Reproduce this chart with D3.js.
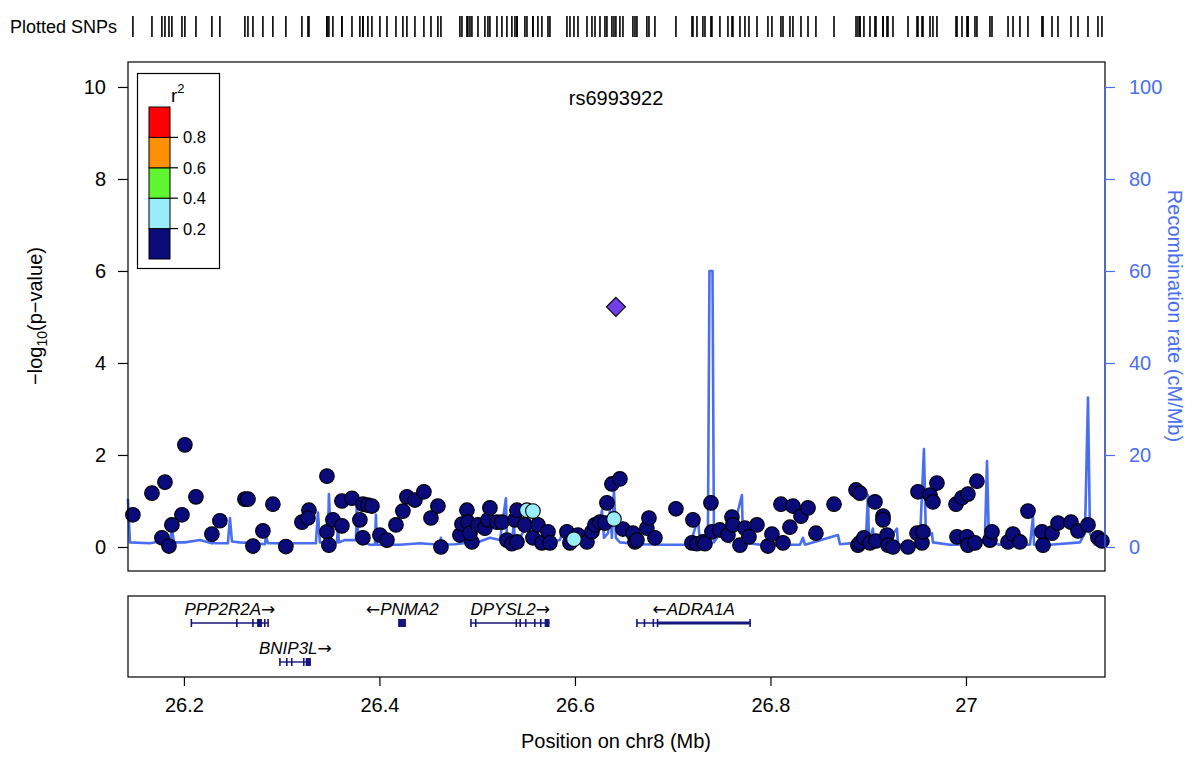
<!DOCTYPE html>
<html><head><meta charset="utf-8">
<script src="https://cdn.jsdelivr.net/npm/d3@7"></script>
<style>body{margin:0;background:#fff} svg{font-family:"Liberation Sans",Arial,Helvetica,sans-serif}</style>
</head><body><svg id="c" width="1200" height="762"></svg>
<script>
// ---------- data ----------
const snpPos = [26.1478,26.1673,26.1806,26.2010,26.2123,26.1980,26.1877,26.1775,26.1847,26.2286,26.2368,26.2624,26.2655,26.2706,26.2808,26.2910,26.3043,26.3207,26.3279,26.3269,
26.3463,26.3463,26.3483,26.3524,26.3616,26.3616,26.3719,26.3800,26.3831,26.3882,26.3831,26.3923,26.4005,26.4077,26.4169,26.4240,26.4281,26.4363,26.4455,26.4527,
26.4598,26.4629,26.4823,26.4844,26.4895,26.4905,26.4946,26.4926,26.5008,26.5079,26.5110,26.5130,26.5202,26.5253,26.5304,26.5355,26.5407,26.5386,26.5407,26.5488,
26.5570,26.5621,26.5662,26.5724,26.5744,26.5918,26.5949,26.6031,26.6123,26.6174,26.6205,26.6256,26.6307,26.6327,26.6378,26.6460,26.6491,26.6593,26.6614,26.6634,
26.6736,26.6757,26.6818,26.7033,26.7197,26.7207,26.7248,26.7309,26.7330,26.7391,26.7401,26.7483,26.7565,26.7606,26.7616,26.7688,26.7739,26.7780,26.7862,26.7974,
26.8015,26.8107,26.8128,26.8199,26.8230,26.8312,26.8384,26.8465,26.8650,26.8875,26.8915,26.8895,26.8915,26.8956,26.9018,26.9069,26.9079,26.9151,26.9151,26.9192,
26.9202,26.9253,26.9407,26.9499,26.9509,26.9550,26.9560,26.9632,26.9662,26.9703,26.9898,26.9908,26.9959,27.0010,27.0020,27.0020,27.0092,27.0112,27.0245,27.0266,
27.0430,27.0481,27.0552,27.0634,27.0777,27.0788,27.0880,27.0941,27.1074,27.1146,27.1248,27.1350,27.1391,
26.5509,26.5570,26.5990,26.6399];
const snpLogP = [0.70,1.17,1.41,2.22,1.09,0.70,0.48,0.20,0.02,0.28,0.57,1.04,1.04,0.02,0.35,0.93,0.01,0.54,0.80,0.63,
1.54,0.33,0.04,0.59,1.00,0.46,1.06,0.59,0.93,0.91,0.20,0.89,0.26,0.15,0.48,0.78,1.09,1.02,1.20,0.63,
0.89,0.00,0.26,0.50,0.80,0.54,0.11,0.30,0.48,0.41,0.59,0.85,0.54,0.54,0.15,0.07,0.11,0.59,0.80,0.48,
0.20,0.48,0.09,0.33,0.09,0.33,0.09,0.26,0.11,0.33,0.48,0.54,0.52,0.96,1.37,1.48,0.39,0.30,0.11,0.15,
0.41,0.63,0.20,0.83,0.09,0.59,0.07,0.11,0.07,0.96,0.33,0.37,0.26,0.65,0.48,0.04,0.41,0.22,0.48,0.02,
0.28,0.93,0.09,0.43,0.89,0.67,0.85,0.30,0.93,1.24,1.17,0.04,0.09,0.20,0.09,0.98,0.13,0.67,0.59,0.26,
0.04,0.00,0.00,0.30,1.20,0.09,0.33,1.13,0.98,1.39,0.93,0.22,1.07,0.22,1.15,0.04,0.09,1.43,0.15,0.33,
0.11,0.28,0.11,0.78,0.33,0.04,0.30,0.52,0.54,0.35,0.48,0.20,0.13,
0.80,0.78,0.17,0.61];
const snpR2 = snpPos.map((d, i) => i >= snpPos.length - 4 ? 0.3 : 0.05);
const leadSnp = "rs6993922";
const leadPos = 26.6419;
const leadLogP = 5.22;

const recombData = [[26.1427,10.5],[26.1448,1],[26.1652,0.8],[26.1754,1.2],[26.1857,1.0],[26.1877,4],[26.1898,1],[26.2010,1.0],[26.2164,1.5],
[26.2286,0.8],[26.2297,2],[26.2307,0.8],[26.2450,0.8],[26.2471,6.3],[26.2491,1.2],[26.2573,1.0],[26.2829,0.6],[26.2839,2.5],[26.2859,0.8],
[26.3350,0.8],[26.3371,7.5],[26.3391,1.0],[26.3473,1.0],[26.3483,11.5],[26.3504,1],[26.3565,1],[26.3575,4],[26.3586,1],[26.3647,1.5],
[26.3760,1.5],[26.3770,11],[26.3780,1.5],[26.3903,0.5],[26.3954,0.5],[26.3964,7],[26.3974,0.5],[26.4210,0.5],[26.4414,0.8],[26.4619,0.5],
[26.4629,2],[26.4639,0.5],[26.4772,0.6],[26.5028,1.2],[26.5130,2],[26.5233,1.5],[26.5294,10.6],[26.5304,2],[26.5355,1.5],[26.5376,5],
[26.5386,1],[26.5437,2],[26.5540,6],[26.5550,1],[26.5744,1],[26.5846,1.5],[26.5887,4],[26.5908,1],[26.6051,2],[26.6153,3],[26.6256,4],
[26.6276,8],[26.6297,2],[26.6338,3],[26.6358,8],[26.6378,2],[26.6399,12.4],[26.6419,2],[26.6460,1],[26.6563,0.8],[26.6665,0.6],
[26.6870,0.5],[26.7176,0.5],[26.7258,6],[26.7279,1],[26.7330,0.8],[26.7360,2],[26.7376,60],[26.7407,60],[26.7422,1],[26.7483,3],
[26.7586,1],[26.7708,11.3],[26.7719,1],[26.7893,0.5],[26.8302,0.5],[26.8332,2],[26.8353,0.5],[26.8690,2.6],[26.8711,0.6],[26.8915,1],
[26.8977,2],[26.8997,11.3],[26.9008,1],[26.9048,4],[26.9059,1],[26.9171,0.5],[26.9294,4],[26.9304,0.5],[26.9478,0.5],[26.9529,1.5],
[26.9570,21.3],[26.9590,2],[26.9652,3],[26.9662,1],[26.9836,0.5],[27.0143,0.6],[27.0194,2],[27.0215,18.7],[27.0235,1],[27.0348,0.5],
[27.0655,0.5],[27.0685,6.5],[27.0696,0.5],[27.0859,0.5],[27.1166,1],[27.1217,3],[27.1248,32.5],[27.1268,3],[27.1320,0.5],[27.1422,0.5]];

const geneNames  = ["PPP2R2A","BNIP3L","PNMA2","DPYSL2","ADRA1A"];
const geneStrand = ["+","+","-","+","-"];
const geneRow    = [0,1,0,0,0];
const geneStart  = [26.2076,26.2982,26.4199,26.4936,26.6634];
const geneEnd    = [26.2865,26.3299,26.4271,26.5740,26.7795];
const geneExons  = [
  [[26.2076,26.2080],[26.2541,26.2545],[26.2706,26.2710],[26.2757,26.2798],[26.2827,26.2832],[26.2861,26.2865]],
  [[26.2982,26.2986],[26.3052,26.3056],[26.3103,26.3107],[26.3226,26.3230],[26.3254,26.3299]],
  [[26.4199,26.4271]],
  [[26.4936,26.4940],[26.4985,26.4989],[26.5400,26.5404],[26.5440,26.5444],[26.5497,26.5501],[26.5589,26.5593],[26.5650,26.5654],[26.5698,26.5740]],
  [[26.6634,26.6638],[26.6711,26.6715],[26.6802,26.6806],[26.6845,26.6849],[26.7791,26.7795]]
];
const thickSpan = [null,null,null,null,[26.6849,26.7795]];

const xTicks = [26.2,26.4,26.6,26.8,27];
const yTicks = [0,2,4,6,8,10];
const recTicks = [0,20,40,60,80,100];
const r2Breaks = [0.2,0.4,0.6,0.8];
const r2Colors = ["#0a0a7a","#99ecfa","#5ff52f","#ff9100","#ff0000"];

// ---------- layout ----------
const svg = d3.select("#c");
const L = 128, R = 1105, T = 62, B = 571;
const FS = 20;
const x = d3.scaleLinear().domain([26.1428, 27.1422]).range([L, R]);
const y = d3.scaleLinear().domain([-0.522, 10.543]).range([B, T]);
const yr = d3.scaleLinear().domain([-5.22, 105.43]).range([B, T]);
const col = d3.scaleThreshold().domain(r2Breaks).range(r2Colors);
const blue = "#4a6ef0";

// rug
svg.append("text").attr("x", 10).attr("y", 33).attr("font-size", 18).text("Plotted SNPs");
svg.append("g").selectAll("line").data(snpPos.concat([leadPos])).join("line")
  .attr("x1", d => x(d)).attr("x2", d => x(d)).attr("y1", 16).attr("y2", 37)
  .attr("stroke", "#000").attr("stroke-width", 1.6);

// recomb line
svg.append("path").datum(recombData)
  .attr("d", d3.line().x(d => x(d[0])).y(d => yr(d[1])))
  .attr("fill", "none").attr("stroke", blue).attr("stroke-width", 2.6).attr("stroke-linejoin", "round");

// points
const pts = snpPos.map((p, i) => ({p, v: snpLogP[i], r2: snpR2[i]})).sort((a, b) => a.r2 - b.r2);
svg.append("g").selectAll("circle").data(pts).join("circle")
  .attr("cx", d => x(d.p)).attr("cy", d => y(d.v)).attr("r", 7.3)
  .attr("fill", d => col(d.r2)).attr("stroke", "#000").attr("stroke-width", 1.1);
const dx = x(leadPos), dy = y(leadLogP), h = 9.5;
svg.append("path").attr("d", `M${dx},${dy - h}L${dx + h},${dy}L${dx},${dy + h}L${dx - h},${dy}Z`)
  .attr("fill", "#7040e6").attr("stroke", "#000").attr("stroke-width", 1.1);

// frame
svg.append("rect").attr("x", L).attr("y", T).attr("width", R - L).attr("height", B - T)
  .attr("fill", "none").attr("stroke", "#000").attr("stroke-width", 1.2);

// title
svg.append("text").attr("x", 616).attr("y", 105).attr("text-anchor", "middle").attr("font-size", FS).text(leadSnp);

// left axis
const ga = svg.append("g").attr("transform", `translate(${L},0)`)
  .call(d3.axisLeft(y).tickValues(yTicks).tickSize(10).tickPadding(12).tickFormat(d3.format("d")));
ga.select(".domain").remove();
ga.selectAll("text").attr("font-size", FS).attr("font-family", "Liberation Sans, Arial, sans-serif");
ga.selectAll("line").attr("stroke-width", 1.2);
const lt = svg.append("text").attr("transform", "translate(42,316) rotate(-90)").attr("text-anchor", "middle").attr("font-size", FS);
lt.append("tspan").text("\u2212log");
lt.append("tspan").attr("font-size", 14).attr("dy", 5).text("10");
lt.append("tspan").attr("dy", -5).text("(p\u2212value)");

// right axis
const gr = svg.append("g").attr("transform", `translate(${R},0)`)
  .call(d3.axisRight(yr).tickValues(recTicks).tickSize(10).tickPadding(14));
gr.select(".domain").attr("stroke", blue).attr("stroke-width", 1.2)
  .attr("d", `M0,${yr(0)}V${yr(100)}`);
gr.selectAll("line").attr("stroke", blue).attr("stroke-width", 1.2);
gr.selectAll("text").attr("fill", blue).attr("font-size", FS).attr("font-family", "Liberation Sans, Arial, sans-serif");
svg.append("text").attr("transform", "translate(1168,316) rotate(90)").attr("text-anchor", "middle")
  .attr("font-size", FS).attr("fill", blue).text("Recombination rate (cM/Mb)");

// legend
const lg = svg.append("g");
lg.append("rect").attr("x", 137.5).attr("y", 73.5).attr("width", 82).attr("height", 195).attr("fill", "#fff").attr("stroke", "#000").attr("stroke-width", 1.2);
const lgY = d3.scaleLinear().domain([0, 1]).range([259, 107]);
lg.selectAll("rect.bin").data(r2Colors).join("rect").attr("class", "bin")
  .attr("x", 149).attr("width", 21)
  .attr("y", (d, i) => lgY((i + 1) / 5)).attr("height", (d, i) => lgY(i / 5) - lgY((i + 1) / 5))
  .attr("fill", d => d).attr("stroke", "#000").attr("stroke-width", 1);
lg.selectAll("line.lt").data(r2Breaks).join("line").attr("class", "lt")
  .attr("x1", 170).attr("x2", 178).attr("y1", d => lgY(d)).attr("y2", d => lgY(d)).attr("stroke", "#000").attr("stroke-width", 1.2);
lg.selectAll("text.ll").data(r2Breaks).join("text").attr("class", "ll")
  .attr("x", 183).attr("y", d => lgY(d) + 6).attr("font-size", 16.5).text(d => d.toFixed(1));
const rt = lg.append("text").attr("x", 171).attr("y", 102).attr("font-size", 19);
rt.append("tspan").text("r");
rt.append("tspan").attr("font-size", 13).attr("dy", -9).text("2");

// gene panel
const GT = 596, GB = 677;
svg.append("rect").attr("x", L).attr("y", GT).attr("width", R - L).attr("height", GB - GT)
  .attr("fill", "none").attr("stroke", "#000").attr("stroke-width", 1.2);
const navy = "#16167c";
const rowLine = [623, 662], rowLabel = [615, 654];
geneNames.forEach((g, i) => {
  const gy = rowLine[geneRow[i]];
  const gg = svg.append("g");
  gg.append("line").attr("x1", x(geneStart[i])).attr("x2", x(geneEnd[i])).attr("y1", gy).attr("y2", gy)
    .attr("stroke", navy).attr("stroke-width", 1.4);
  if (thickSpan[i]) gg.append("line").attr("x1", x(thickSpan[i][0])).attr("x2", x(thickSpan[i][1]))
    .attr("y1", gy).attr("y2", gy).attr("stroke", navy).attr("stroke-width", 3);
  geneExons[i].forEach(e => {
    gg.append("rect").attr("x", x(e[0]) - 0.8).attr("width", Math.max(1.6, x(e[1]) - x(e[0]) + 0.8))
      .attr("y", gy - 4).attr("height", 8).attr("fill", navy);
  });
  const cx = (x(geneStart[i]) + x(geneEnd[i])) / 2;
  const t = gg.append("text").attr("x", cx).attr("y", rowLabel[geneRow[i]]).attr("text-anchor", "middle").attr("font-size", 17);
  if (geneStrand[i] === "-") t.append("tspan").attr("font-family", "DejaVu Sans").text("\u2190");
  t.append("tspan").attr("font-style", "italic").text(g);
  if (geneStrand[i] === "+") t.append("tspan").attr("font-family", "DejaVu Sans").text("\u2192");
});

// bottom axis
const gb = svg.append("g").attr("transform", `translate(0,${GB})`)
  .call(d3.axisBottom(x).tickValues(xTicks).tickSize(9).tickPadding(12).tickFormat(d => String(+d.toFixed(1))));
gb.select(".domain").remove();
gb.selectAll("text").attr("font-size", FS).attr("font-family", "Liberation Sans, Arial, sans-serif");
gb.selectAll("line").attr("stroke-width", 1.2);
svg.append("text").attr("x", 616).attr("y", 748).attr("text-anchor", "middle").attr("font-size", FS).text("Position on chr8 (Mb)");
</script></body></html>
